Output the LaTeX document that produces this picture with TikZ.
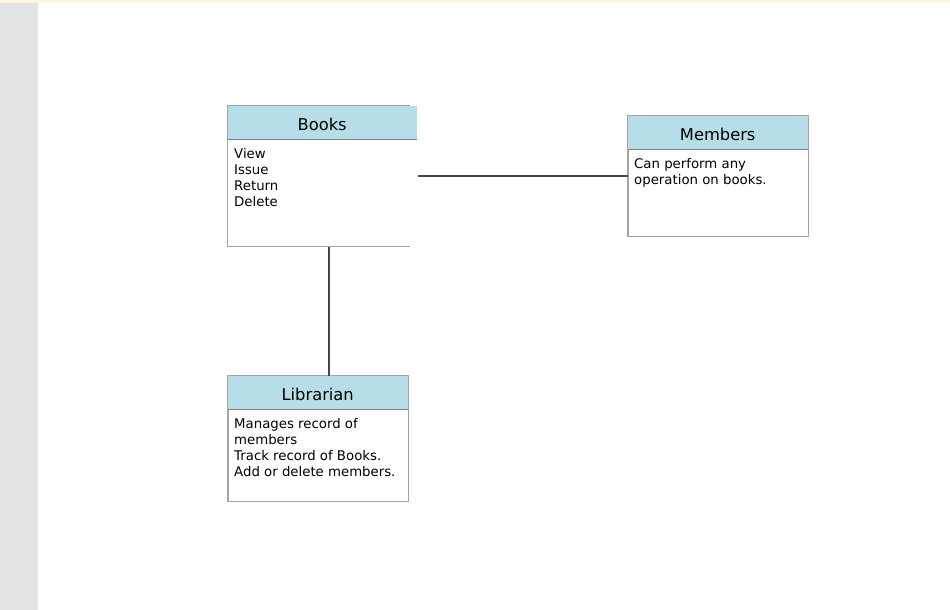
\documentclass[tikz,border=0pt]{standalone}
\usepackage{fontspec}
\setmainfont{DejaVu Sans}
\usetikzlibrary{positioning}
\definecolor{headblue}{RGB}{183,221,232}
\definecolor{boxgray}{RGB}{165,165,165}
\definecolor{headline}{RGB}{128,128,128}
\definecolor{linkgray}{RGB}{70,70,70}
\definecolor{sidegray}{RGB}{227,228,230}
\definecolor{topcream}{RGB}{255,246,222}

\begin{document}
\begin{tikzpicture}[x=1pt,y=-1pt,
		classbox/.style={draw=boxgray,line width=1pt,anchor=north west,inner sep=0pt},
		classhead/.style={fill=headblue,anchor=north west,inner sep=0pt,minimum height=34pt,text height=16pt,text depth=0pt,font=\fontsize{16.3}{18}\selectfont},
		classtext/.style={anchor=north west,inner sep=0pt,align=left,font=\fontsize{13.3}{16}\selectfont},
		link/.style={draw=linkgray,line width=1.5pt}]
			%\draw [help lines] (0,0) grid (950,610);
			\fill[white] (0,0) rectangle (950,610);
			\fill[topcream] (0,0) rectangle (950,3);
			\fill[sidegray] (0,3) rectangle (38,610);
			\useasboundingbox (0,0) rectangle (950,610);
			% Books (no right border on the body)
			\node[classbox,draw=none,minimum width=181pt,minimum height=140pt] (books) at (227.5,105.5) {};
			\node[classhead,minimum width=189pt] (bookshead) at (books.north west) {Books};
			\draw[headline,line width=1pt] (bookshead.south west) -- (bookshead.south east);
			\draw[boxgray,line width=1pt] (books.north east) -- (books.north west) -- (books.south west) -- (books.south east);
			\node[classtext,below right=8pt and 6.5pt of bookshead.south west] (bookstext) {View\\Issue\\Return\\Delete};
			% Members
			\node[classbox,minimum width=180pt,minimum height=120pt] (members) at (627.5,115.5) {};
			\node[classhead,minimum width=180pt] (membershead) at (members.north west) {Members};
			\draw[headline,line width=1pt] (membershead.south west) -- (membershead.south east);
			\draw[boxgray,line width=1pt] (members.north west) rectangle (members.south east);
			\node[classtext,below right=8pt and 6.5pt of membershead.south west] (memberstext) {Can perform any\\operation on books.};
			% Librarian
			\node[classbox,minimum width=180pt,minimum height=125pt] (librarian) at (227.5,375.5) {};
			\node[classhead,minimum width=180pt] (librarianhead) at (librarian.north west) {Librarian};
			\draw[headline,line width=1pt] (librarianhead.south west) -- (librarianhead.south east);
			\draw[boxgray,line width=1pt] (librarian.north west) rectangle (librarian.south east);
			\node[classtext,below right=8pt and 6.5pt of librarianhead.south west] (librariantext) {Manages record of\\members\\Track record of Books.\\Add or delete members.};
			% links
			\draw[link] ([xshift=1pt]bookshead.east |- books.east) -- (members.west);
			\draw[link] ([xshift=10.5pt]books.south) -- ([xshift=10.5pt]books.south |- librarian.north);
		\end{tikzpicture}
\end{document}
